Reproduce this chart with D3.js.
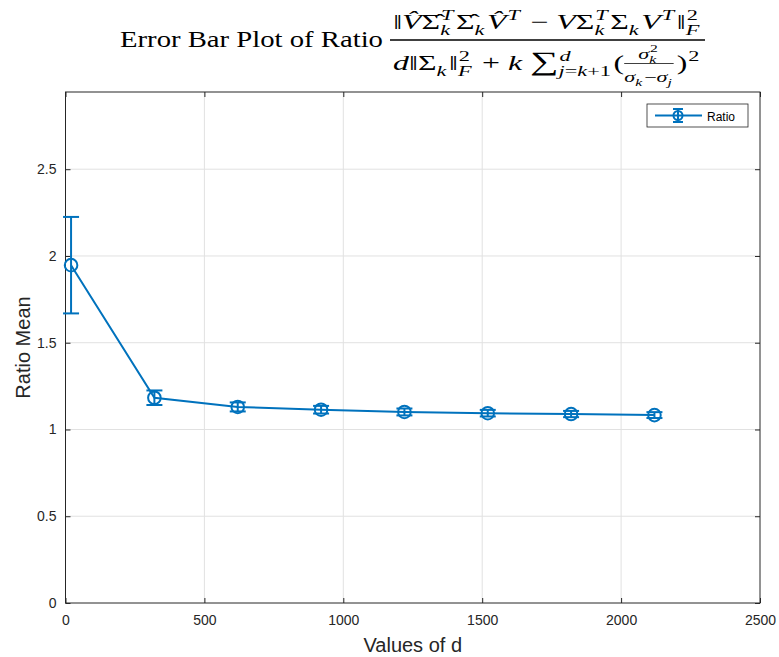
<!DOCTYPE html>
<html>
<head>
<meta charset="utf-8">
<script src="https://cdn.jsdelivr.net/npm/d3@7"></script>
<style>
  body { margin: 0; background: #fff; }
  text { font-family: "Liberation Sans", Arial, sans-serif; }
  .tt text { font-family: "Liberation Serif", "DejaVu Serif", serif; fill: #000; }
</style>
</head>
<body>
<div id="chart"></div>
<script>
// data
var dValues   = [20, 320, 620, 920, 1220, 1520, 1820, 2120];
var ratioMean = [1.947, 1.183, 1.130, 1.114, 1.101, 1.094, 1.089, 1.083];
var ratioErr  = [0.278, 0.042, 0.026, 0.022, 0.020, 0.019, 0.018, 0.017];
var xTicks = [0, 500, 1000, 1500, 2000, 2500];
var yTicks = [0, 0.5, 1, 1.5, 2, 2.5];
var seriesName = "Ratio";

var W = 779, H = 657;
var plot = {left: 65.5, top: 92, right: 760, bottom: 603};
var blue = "#0072BD";

var svg = d3.select("#chart").append("svg")
    .attr("width", W)
    .attr("height", H);

var x = d3.scaleLinear().domain([0, 2500]).range([plot.left, plot.right]);
var y = d3.scaleLinear().domain([0, 2.945]).range([plot.bottom, plot.top]);

// grid
svg.append("g").selectAll("line").data(xTicks.slice(1, -1)).enter().append("line")
    .attr("x1", d => x(d)).attr("x2", d => x(d))
    .attr("y1", plot.top).attr("y2", plot.bottom)
    .attr("stroke", "#e1e1e1").attr("stroke-width", 1);
svg.append("g").selectAll("line").data(yTicks.slice(1)).enter().append("line")
    .attr("x1", plot.left).attr("x2", plot.right)
    .attr("y1", d => y(d)).attr("y2", d => y(d))
    .attr("stroke", "#e1e1e1").attr("stroke-width", 1);

// axes (ticks inside, mirrored on top/right)
var fmt = d => String(d);
var xAxis = d3.axisBottom(x).tickValues(xTicks).tickFormat(fmt).tickSizeInner(-5).tickSizeOuter(0).tickPadding(12);
var yAxis = d3.axisLeft(y).tickValues(yTicks).tickFormat(fmt).tickSizeInner(-5).tickSizeOuter(0).tickPadding(9);
var xTop = d3.axisTop(x).tickValues(xTicks).tickFormat("").tickSizeInner(-5).tickSizeOuter(0);
var yRight = d3.axisRight(y).tickValues(yTicks).tickFormat("").tickSizeInner(-5).tickSizeOuter(0);

function styleAxis(g) {
  g.select(".domain").remove();
  g.selectAll(".tick line").attr("stroke", "#262626");
  g.selectAll(".tick text").attr("fill", "#262626").style("font-size", "14px")
    .style("font-family", "'Liberation Sans', Arial, sans-serif");
}
svg.append("g").attr("transform", "translate(0," + plot.bottom + ")").call(xAxis).call(styleAxis);
svg.append("g").attr("transform", "translate(" + plot.left + ",0)").call(yAxis).call(styleAxis);
svg.append("g").attr("transform", "translate(0," + plot.top + ")").call(xTop).call(styleAxis);
svg.append("g").attr("transform", "translate(" + plot.right + ",0)").call(yRight).call(styleAxis);

svg.append("rect")
    .attr("x", plot.left).attr("y", plot.top)
    .attr("width", plot.right - plot.left).attr("height", plot.bottom - plot.top)
    .attr("fill", "none").attr("stroke", "#262626").attr("stroke-width", 1);

// axis labels
svg.append("text")
    .attr("x", (plot.left + plot.right) / 2).attr("y", 652)
    .attr("text-anchor", "middle").attr("fill", "#262626")
    .style("font-size", "20px")
    .text("Values of d");
svg.append("text")
    .attr("transform", "translate(30," + (plot.top + plot.bottom) / 2 + ") rotate(-90)")
    .attr("text-anchor", "middle").attr("fill", "#262626")
    .style("font-size", "20px")
    .text("Ratio Mean");

// series
var pts = dValues.map((d, i) => ({d: d, m: ratioMean[i], e: ratioErr[i]}));
var line = d3.line().x(p => x(p.d)).y(p => y(p.m));
var capW = 8;

svg.append("path").datum(pts)
    .attr("d", line)
    .attr("fill", "none").attr("stroke", blue).attr("stroke-width", 2);

var eb = svg.append("g").selectAll("g").data(pts).enter().append("g")
    .attr("stroke", blue).attr("stroke-width", 2).attr("fill", "none");
eb.append("line")
    .attr("x1", p => x(p.d)).attr("x2", p => x(p.d))
    .attr("y1", p => y(p.m - p.e)).attr("y2", p => y(p.m + p.e));
eb.append("line")
    .attr("x1", p => x(p.d) - capW).attr("x2", p => x(p.d) + capW)
    .attr("y1", p => y(p.m + p.e)).attr("y2", p => y(p.m + p.e));
eb.append("line")
    .attr("x1", p => x(p.d) - capW).attr("x2", p => x(p.d) + capW)
    .attr("y1", p => y(p.m - p.e)).attr("y2", p => y(p.m - p.e));
eb.append("circle")
    .attr("cx", p => x(p.d)).attr("cy", p => y(p.m)).attr("r", 6.3);

// legend
var lg = svg.append("g").attr("transform", "translate(647,104)");
lg.append("rect").attr("width", 101).attr("height", 23)
    .attr("fill", "#fff").attr("stroke", "#262626").attr("stroke-width", 0.8);
lg.append("line").attr("x1", 8).attr("x2", 55).attr("y1", 11.5).attr("y2", 11.5)
    .attr("stroke", blue).attr("stroke-width", 2);
lg.append("line").attr("x1", 31).attr("x2", 31).attr("y1", 5).attr("y2", 18)
    .attr("stroke", blue).attr("stroke-width", 2);
lg.append("line").attr("x1", 26).attr("x2", 36).attr("y1", 5).attr("y2", 5)
    .attr("stroke", blue).attr("stroke-width", 2);
lg.append("line").attr("x1", 26).attr("x2", 36).attr("y1", 18).attr("y2", 18)
    .attr("stroke", blue).attr("stroke-width", 2);
lg.append("circle").attr("cx", 31).attr("cy", 11.5).attr("r", 4.5)
    .attr("fill", "none").attr("stroke", blue).attr("stroke-width", 2);
lg.append("text").attr("x", 60).attr("y", 16.5)
    .attr("fill", "#000").style("font-size", "12px")
    .text(seriesName);

// title: text plus a small math layout
var titleText = "Error Bar Plot of Ratio";
var numTokens = [
  ["n", "\u2016"], ["i", "V\u0302"], ["n", "\u03A3\u0302"], ["ss", [["i", "T"]], [["i", "k"]]],
  ["n", "\u03A3\u0302"], ["ss", null, [["i", "k"]]], ["i", "V\u0302"], ["ss", [["i", "T"]], null],
  ["n", " \u2212 "], ["i", "V"], ["n", "\u03A3"], ["ss", [["i", "T"]], [["i", "k"]]],
  ["n", "\u03A3"], ["ss", null, [["i", "k"]]], ["i", "V"], ["ss", [["i", "T"]], null],
  ["n", "\u2016"], ["ss", [["n", "2"]], [["i", "F"]]]
];
var denTokens = [
  ["i", "d"], ["n", "\u2016"], ["n", "\u03A3"], ["ss", null, [["i", "k"]]], ["n", "\u2016"],
  ["ss", [["n", "2"]], [["i", "F"]]], ["n", " + "], ["i", "k"], ["n", " "], ["b", "\u2211"],
  ["ss", [["i", "d"]], [["i", "j"], ["n", "="], ["i", "k"], ["n", "+1"]]],
  ["n", "("],
  ["frac", [["i", "\u03C3"], ["ss", [["n", "2"]], [["i", "k"]]]],
           [["i", "\u03C3"], ["ss", null, [["i", "k"]]], ["n", "\u2212"], ["i", "\u03C3"], ["ss", null, [["i", "j"]]]]],
  ["n", ")"], ["ss", [["n", "2"]], null]
];

function lay(g, toks, x0, yb, fs) {
  var cx = x0;
  toks.forEach(function(t) {
    if (t[0] === "n" || t[0] === "i" || t[0] === "b") {
      var el = g.append("text").attr("x", cx).attr("y", yb)
          .style("font-size", (t[0] === "b" ? fs * 1.25 : fs) + "px")
          .style("font-style", t[0] === "i" ? "italic" : "normal")
          .attr("xml:space", "preserve")
          .text(t[1]);
      cx += el.node().getComputedTextLength();
    } else if (t[0] === "ss") {
      var s = fs * 0.7, w1 = 0, w2 = 0;
      if (t[1]) w1 = lay(g, t[1], cx + fs * 0.03, yb - fs * 0.45, s) - cx;
      if (t[2]) w2 = lay(g, t[2], cx, yb + fs * 0.3, s) - cx;
      cx += Math.max(w1, w2) + fs * 0.08;
    } else if (t[0] === "frac") {
      var sf = fs * 0.7;
      var gn = g.append("g"), gd = g.append("g");
      var wn = lay(gn, t[1], 0, yb - fs * 0.52, sf);
      var wd = lay(gd, t[2], 0, yb + fs * 0.55, sf);
      var w = Math.max(wn, wd);
      gn.attr("transform", "translate(" + (cx + (w - wn) / 2) + ",0)");
      gd.attr("transform", "translate(" + (cx + (w - wd) / 2) + ",0)");
      g.append("line").attr("x1", cx).attr("x2", cx + w)
          .attr("y1", yb - fs * 0.3).attr("y2", yb - fs * 0.3)
          .attr("stroke", "#000").attr("stroke-width", 0.8);
      cx += w + 2;
    }
  });
  return cx;
}

var tg = svg.append("g").attr("class", "tt");

// leading words, stretched a little to the reference's width
var leadG = tg.append("g");
var lead = leadG.append("text").attr("x", 0).attr("y", 47)
    .style("font-size", "23px").text(titleText);
var leadW = lead.node().getComputedTextLength();
leadG.attr("transform", "translate(120,0) scale(" + (263 / leadW) + ",1)");

// the fraction
var fracG = tg.append("g");
var gNum = fracG.append("g"), gDen = fracG.append("g");
var wNum = lay(gNum, numTokens, 0, 29, 21);
var wDen = lay(gDen, denTokens, 0, 70, 21);
var wF = Math.max(wNum, wDen) + 4;
gNum.attr("transform", "translate(" + (wF - wNum) / 2 + ",0)");
gDen.attr("transform", "translate(" + (wF - wDen) / 2 + ",0)");
fracG.append("line").attr("x1", 0).attr("x2", wF)
    .attr("y1", 40).attr("y2", 40).attr("stroke", "#000").attr("stroke-width", 1.5);
fracG.attr("transform", "translate(390,0) scale(" + (315 / wF) + ",1)");
</script>
</body>
</html>
